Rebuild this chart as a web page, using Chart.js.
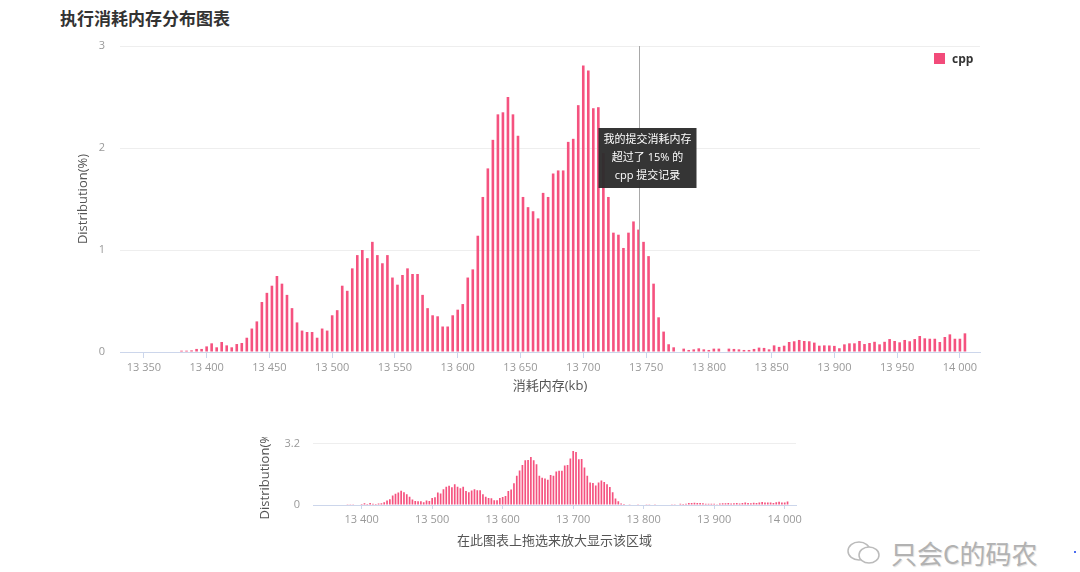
<!DOCTYPE html>
<html>
<head>
<meta charset="utf-8">
<script src="https://cdn.jsdelivr.net/npm/chart.js@4.4.0/dist/chart.umd.min.js"></script>
<style>
  body { margin: 0; width: 1080px; height: 572px; background: #fff; position: relative; overflow: hidden;
         font-family: "Open Sans", "Noto Sans CJK SC", sans-serif; }
  #title { position: absolute; left: 60px; top: 5px; font-size: 17px; font-weight: bold; color: #333;
           font-family: "Noto Sans CJK SC", sans-serif; }
  #main { position: absolute; left: 0; top: 0; }
  #navwrap { position: absolute; left: 240px; top: 437px; width: 570px; height: 120px; overflow: hidden; }
  #nav { position: absolute; left: 0; top: -13px; }
  #legend { position: absolute; left: 934px; top: 50px; font-size: 12px; font-weight: bold; color: #333;
            display: flex; align-items: center; }
  #legend i { display: inline-block; width: 11px; height: 11px; background: #f24b7a; margin-right: 7px; }
  #mark { position: absolute; left: 846px; top: 534px; display: flex; align-items: center; color: #b2b2b2;
          font-size: 26px; font-family: "Noto Sans CJK SC", sans-serif; text-shadow: 1px 1px 1px #e0e0e0; }
  #mark svg { margin-right: 9px; }
  #dot { position: absolute; left: 1074px; top: 551px; width: 2px; height: 2px; background: #4a6cf0; }
</style>
</head>
<body>
<div id="title">执行消耗内存分布图表</div>
<canvas id="main" width="1000" height="394"></canvas>
<div id="navwrap"><canvas id="nav" width="570" height="125"></canvas></div>
<div id="legend"><i></i>cpp</div>
<div id="mark">
  <svg width="36" height="26" viewBox="0 0 36 26">
    <ellipse cx="13" cy="11" rx="11" ry="9" fill="none" stroke="#bbb" stroke-width="1.5"/>
    <ellipse cx="23" cy="15" rx="10" ry="8" fill="#fff" stroke="#bbb" stroke-width="1.5"/>
  </svg>只会C的码农</div>
<div id="dot"></div>
<script>
// memory bins (kb), 4 kb wide, first bin at 13380
const binStart = 13380;
const binStep = 4;
// share of submissions in each bin (%)
const distribution = [
  0.013, 0.013, 0.016, 0.03, 0.03,
  0.055, 0.085, 0.046, 0.098, 0.065,
  0.046, 0.078, 0.088, 0.14, 0.23,
  0.30, 0.49, 0.58, 0.65, 0.745,
  0.67, 0.56, 0.43, 0.29, 0.21,
  0.196, 0.196, 0.14, 0.23, 0.21,
  0.36, 0.41, 0.65, 0.60, 0.82,
  0.95, 1.0, 0.92, 1.08, 0.95,
  0.87, 0.95, 0.73, 0.66, 0.755,
  0.82, 0.765, 0.765, 0.56, 0.43,
  0.36, 0.35, 0.25, 0.25, 0.36,
  0.415, 0.47, 0.73, 0.81, 1.14,
  1.52, 1.80, 2.08, 2.33, 2.35,
  2.50, 2.33, 2.12, 1.52, 1.42,
  1.38, 1.31, 1.56, 1.52, 1.75,
  1.78, 1.78, 2.06, 2.09, 2.42,
  2.81, 2.76, 2.39, 2.40, 1.95,
  1.52, 1.17, 1.15, 1.02, 1.17,
  1.28, 1.20, 1.08, 0.94, 0.67,
  0.34, 0.20, 0.076, 0.046, 0,
  0.033, 0.02, 0.026, 0.036, 0.026,
  0.02, 0.033, 0.033, 0, 0.033,
  0.03, 0.026, 0.02, 0.02, 0.03,
  0.043, 0.04, 0.026, 0.065, 0.05,
  0.062, 0.098, 0.105, 0.118, 0.108,
  0.105, 0.092, 0.062, 0.065, 0.064,
  0.06, 0.037, 0.075, 0.085, 0.085,
  0.108, 0.078, 0.088, 0.10, 0.075,
  0.10, 0.127, 0.108, 0.095, 0.118,
  0.105, 0.127, 0.157, 0.134, 0.13,
  0.13, 0.098, 0.147, 0.173, 0.13,
  0.13, 0.183
];
const memBins = distribution.map((_, i) => binStart + i * binStep);

const mainTicks = [13350, 13400, 13450, 13500, 13550, 13600, 13650, 13700,
                   13750, 13800, 13850, 13900, 13950, 14000];
const navTicks = [13400, 13500, 13600, 13700, 13800, 13900, 14000];
const yTicks = [0, 1, 2, 3];
const navYTicks = [0, 3.2];

// "my submission" marker
const markerKb = 13744;
const markerText = ['我的提交消耗内存', '超过了 15% 的', 'cpp 提交记录'];

const xMin = 13331, xMax = 14016;
const barColor = '#f5527f';
const fontFam = '"Open Sans", "Noto Sans CJK SC", sans-serif';
Chart.defaults.font.family = fontFam;

const fmt = v => String(v).replace(/\B(?=(\d{3})+(?!\d))/g, ' ');
const points = memBins.map((x, i) => ({ x: x, y: distribution[i] }));

const markerPlugin = {
  id: 'marker',
  afterDatasetsDraw(chart) {
    const { ctx, chartArea, scales: { x, y } } = chart;
    const px = Math.round(x.getPixelForValue(markerKb)) + 0.5;
    ctx.save();
    ctx.strokeStyle = '#a8a8a8';
    ctx.lineWidth = 1;
    ctx.beginPath();
    ctx.moveTo(px, chartArea.top);
    ctx.lineTo(px, chartArea.bottom);
    ctx.stroke();
    const bw = 98, bh = 60;
    const bx = px - 41, by = Math.round(y.getPixelForValue(2.2));
    ctx.fillStyle = 'rgba(45,45,45,0.96)';
    ctx.fillRect(bx, by, bw, bh);
    ctx.fillStyle = '#fff';
    ctx.font = '11px ' + fontFam;
    ctx.textAlign = 'center';
    ctx.textBaseline = 'middle';
    markerText.forEach((t, i) => ctx.fillText(t, bx + bw / 2, by + 12 + i * 18));
    ctx.restore();
  }
};

// ! main chart
new Chart(document.getElementById('main'), {
  type: 'bar',
  data: {
    datasets: [{
      label: 'cpp',
      data: points,
      backgroundColor: barColor,
      barPercentage: 0.52,
      categoryPercentage: 1,
    }]
  },
  options: {
    responsive: false,
    animation: false,
    layout: { padding: { left: 71, top: 46, right: 20, bottom: 0 } },
    plugins: { legend: { display: false }, tooltip: { enabled: false } },
    scales: {
      x: {
        type: 'linear', min: xMin, max: xMax, offset: false,
        afterBuildTicks: a => { a.ticks = mainTicks.map(v => ({ value: v })); },
        ticks: { callback: fmt, color: '#999', font: { size: 11 }, padding: 3, maxRotation: 0, autoSkip: false },
        grid: { drawOnChartArea: false, tickLength: 6, color: '#ccd6eb', offset: false },
        border: { color: '#ccd6eb' },
        title: { display: true, text: '消耗内存(kb)', color: '#555', font: { size: 13 }, padding: 0 },
        afterFit: a => { a.height = 42; },
      },
      y: {
        min: 0, max: 3,
        afterBuildTicks: a => { a.ticks = yTicks.map(v => ({ value: v })); },
        ticks: { color: '#999', font: { size: 11 }, padding: 15 },
        grid: { color: '#eeeeee', drawTicks: false },
        border: { display: false },
        title: { display: true, text: 'Distribution(%)', color: '#555', font: { size: 13 }, padding: 4 },
        afterFit: a => { a.width = 49; },
      },
    },
  },
  plugins: [markerPlugin],
});

// ! navigator chart
new Chart(document.getElementById('nav'), {
  type: 'bar',
  data: {
    datasets: [{
      label: 'cpp',
      data: points,
      backgroundColor: barColor,
      barPercentage: 0.6,
      categoryPercentage: 1,
    }]
  },
  options: {
    responsive: false,
    animation: false,
    layout: { padding: { left: 13, top: 6, right: 14, bottom: 0 } },
    plugins: { legend: { display: false }, tooltip: { enabled: false } },
    scales: {
      x: {
        type: 'linear', min: xMin, max: xMax, offset: false,
        afterBuildTicks: a => { a.ticks = navTicks.map(v => ({ value: v })); },
        ticks: { callback: fmt, color: '#999', font: { size: 11 }, padding: 4, maxRotation: 0, autoSkip: false },
        grid: { drawOnChartArea: false, tickLength: 4, color: '#ccd6eb', offset: false },
        border: { color: '#ccd6eb' },
        title: { display: true, text: '在此图表上拖选来放大显示该区域', color: '#555', font: { size: 13 }, padding: 0 },
        afterFit: a => { a.height = 44; },
      },
      y: {
        min: 0, max: 3.2,
        afterBuildTicks: a => { a.ticks = navYTicks.map(v => ({ value: v })); },
        ticks: { color: '#999', font: { size: 11 }, padding: 13 },
        grid: { color: '#eeeeee', drawTicks: false },
        border: { display: false },
        title: { display: true, text: 'Distribution(%)', color: '#555', font: { size: 13 }, padding: 4 },
        afterFit: a => { a.width = 60; },
      },
    },
  },
});
</script>
</body>
</html>
